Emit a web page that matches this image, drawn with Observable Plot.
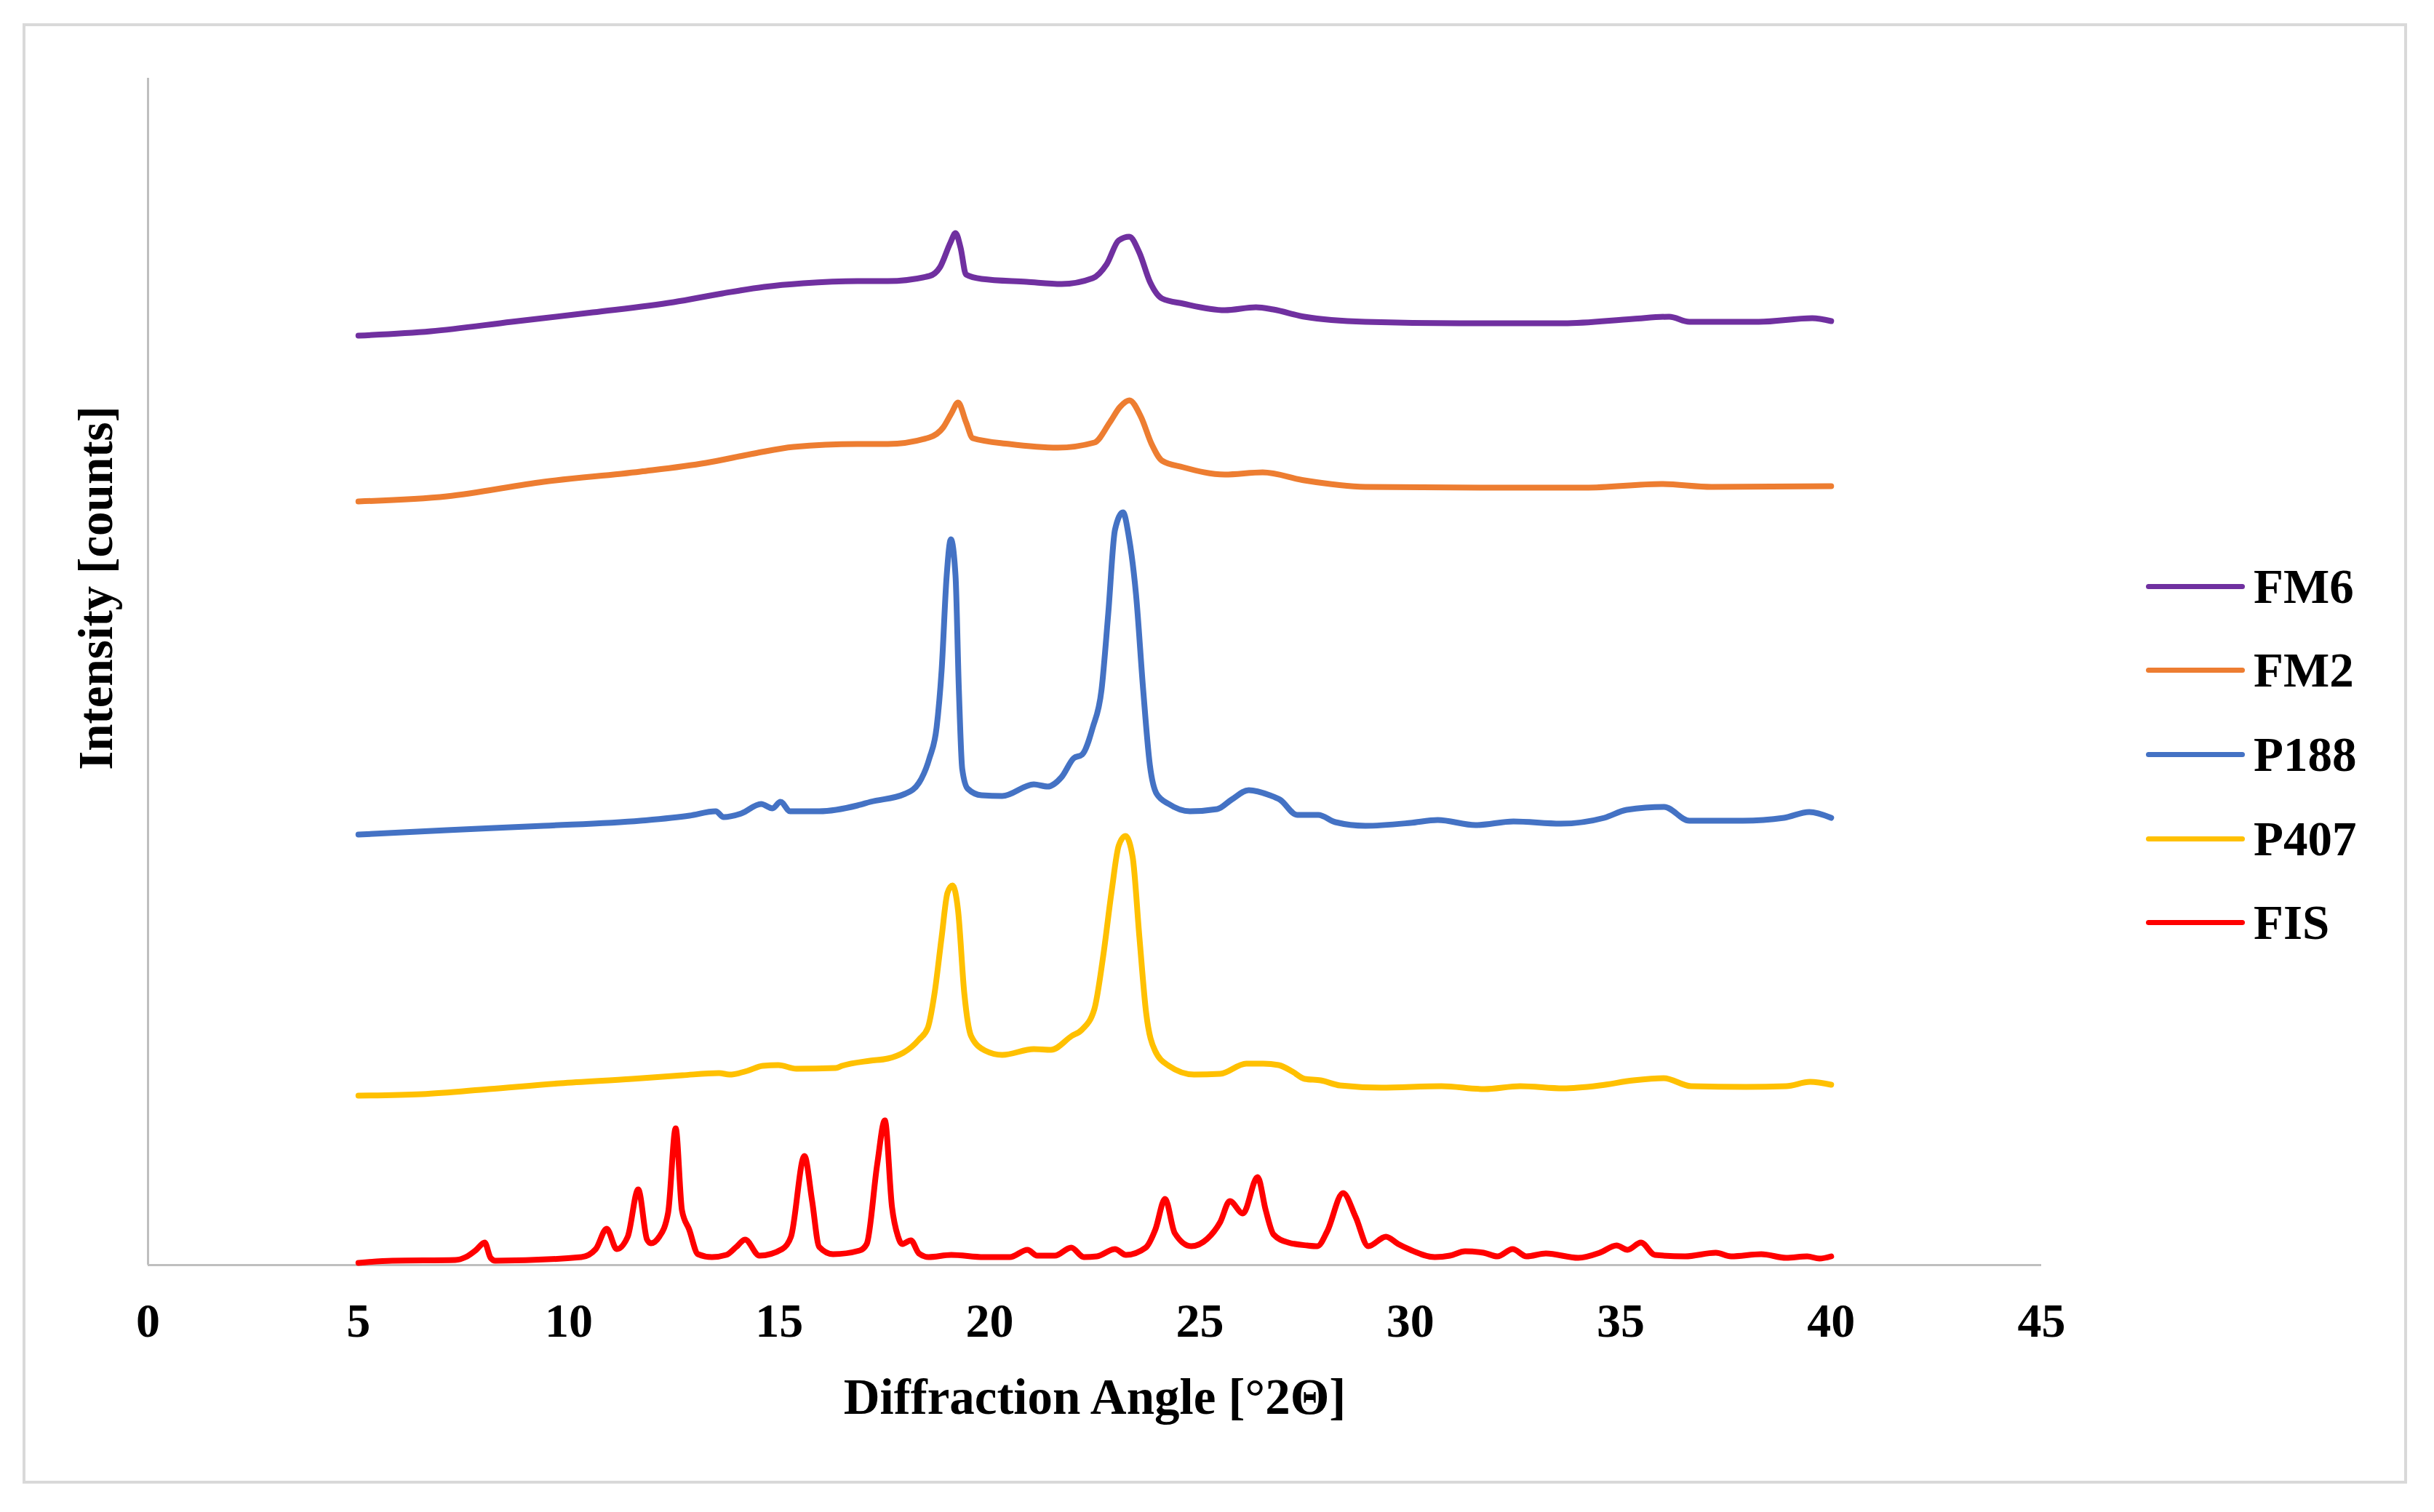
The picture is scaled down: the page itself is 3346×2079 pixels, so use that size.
<!DOCTYPE html>
<html><head><meta charset="utf-8">
<script src="https://cdn.jsdelivr.net/npm/d3@7"></script>
<script src="https://cdn.jsdelivr.net/npm/@observablehq/plot@0.6"></script>
<style>
html,body{margin:0;padding:0;background:#fff;}
#wrap{position:relative;width:3346px;height:2079px;overflow:hidden;background:#fff;}
#chart{position:absolute;left:0;top:0;}
#frame{position:absolute;left:31px;top:32px;width:3278px;height:2008px;border:4px solid #d9d9d9;box-sizing:border-box;pointer-events:none;}
#legend{position:absolute;left:2950px;top:0;font-family:'Liberation Serif','Times New Roman',serif;font-weight:bold;font-size:67px;color:#000;line-height:1;}
.row{position:absolute;left:0;display:flex;align-items:center;white-space:nowrap;height:80px;}
.swatch{width:136px;height:7px;border-radius:4px;margin-right:12px;}
</style>
</head><body>
<div id="wrap"><div id="chart"></div><div id="legend"></div><div id="frame"></div></div>
<script>
// ---- data (angle °2Θ, intensity in arbitrary counts) ----
const seriesNames = ["FM6", "FM2", "P188", "P407", "FIS"];
const seriesColors = ["#7030A0", "#ED7D31", "#4472C4", "#FFC000", "#FF0000"];
const xTicks = [0, 5, 10, 15, 20, 25, 30, 35, 40, 45];
const xTitle = "Diffraction Angle [°2Θ]";
const yTitle = "Intensity [counts]";

const FM6 = [[5.0,1278],[6.72,1284],[8.64,1297],[10.57,1310],[12.49,1324],[13.65,1336],[14.64,1345],[15.57,1350],[16.86,1353],[17.58,1353],[18.57,1360],[18.82,1372],[19.07,1406],[19.19,1419],[19.31,1399],[19.44,1362],[19.81,1356],[20.88,1352],[21.71,1349],[22.45,1357],[22.78,1376],[23.07,1409],[23.32,1414],[23.56,1392],[23.81,1352],[24.1,1329],[24.6,1322],[25.59,1313],[26.33,1317],[26.74,1314],[27.48,1304],[28.93,1297],[31.17,1295],[33.64,1295],[35.29,1301],[36.15,1304],[36.63,1297],[38.28,1297],[39.55,1302],[40.0,1298]];

const FM2 = [[5.0,1050],[7.1,1057],[9.4,1077],[11.7,1091],[13.26,1103],[14.41,1116],[15.34,1125],[16.86,1129],[17.58,1129],[18.57,1138],[18.9,1152],[19.1,1172],[19.25,1186],[19.44,1159],[19.6,1137],[20.47,1129],[21.62,1124],[22.49,1131],[22.86,1159],[23.1,1180],[23.32,1189],[23.6,1166],[23.85,1129],[24.1,1106],[24.6,1097],[25.59,1087],[26.49,1090],[27.48,1079],[28.93,1070],[31.92,1069],[34.16,1069],[35.96,1074],[37.16,1070],[40.0,1071]];

const P188 = [[5.0,592],[7.1,598],[9.4,604],[11.7,611],[12.87,618],[13.49,624],[13.68,616],[14.1,621],[14.57,634],[14.84,628],[15.03,637],[15.26,624],[15.95,624],[16.86,632],[17.17,637],[17.99,648],[18.32,663],[18.57,697],[18.74,739],[18.86,818],[18.98,948],[19.08,998],[19.19,948],[19.27,791],[19.35,682],[19.48,655],[19.81,646],[20.3,645],[21.05,661],[21.38,658],[21.71,671],[22.0,697],[22.2,702],[22.45,739],[22.66,791],[22.82,896],[22.98,1011],[23.17,1035],[23.31,1001],[23.48,922],[23.65,791],[23.81,687],[23.97,648],[24.26,634],[24.76,624],[25.41,627],[25.75,640],[26.16,653],[26.66,646],[26.9,640],[27.31,619],[27.81,619],[28.22,609],[28.93,604],[30.0,608],[30.65,612],[31.55,605],[32.45,610],[33.57,607],[34.61,615],[35.14,626],[36.03,630],[36.63,611],[37.9,611],[38.88,615],[39.48,623],[40.0,615]];

const P407 = [[5.0,233],[6.5,235],[8.1,242],[9.8,250],[11.5,256],[12.7,261],[13.57,264],[13.82,262],[14.24,267],[14.61,274],[14.98,275],[15.41,270],[16.34,271],[16.49,274],[17.16,281],[17.58,284],[18.32,310],[18.53,326],[18.69,373],[18.86,451],[19.0,512],[19.12,522],[19.25,488],[19.4,373],[19.56,315],[19.89,295],[20.3,289],[21.05,297],[21.46,296],[21.95,315],[22.2,324],[22.49,352],[22.7,425],[22.9,514],[23.07,577],[23.23,590],[23.4,561],[23.56,451],[23.72,347],[23.93,295],[24.26,274],[24.86,262],[25.48,263],[26.1,277],[26.5,277],[26.87,275],[27.2,266],[27.49,256],[27.87,254],[28.33,247],[29.3,244],[30.74,246],[31.76,242],[32.61,246],[33.63,243],[34.5,247],[35.3,254],[36.02,257],[36.67,246],[37.98,245],[38.93,246],[39.5,252],[40.0,248]];

const FIS = [[5.0,3],[5.8,6],[7.3,7],[7.55,11],[7.8,21],[8.0,31],[8.14,10],[8.25,6],[10.3,11],[10.64,22],[10.9,50],[11.14,22],[11.4,39],[11.65,104],[11.86,35],[11.95,30],[12.15,39],[12.36,72],[12.54,188],[12.69,75],[12.86,49],[13.07,15],[13.4,11],[13.74,14],[13.98,25],[14.19,35],[14.53,13],[15.07,22],[15.28,39],[15.6,150],[15.78,89],[15.95,25],[16.28,15],[16.91,20],[17.08,29],[17.33,139],[17.51,199],[17.68,80],[17.82,40],[17.92,29],[18.13,34],[18.32,16],[18.55,11],[19.09,14],[19.86,11],[20.48,11],[20.9,21],[21.13,13],[21.55,13],[21.94,24],[22.24,11],[22.55,12],[22.98,22],[23.24,14],[23.71,24],[23.94,49],[24.17,91],[24.4,44],[24.79,26],[25.17,36],[25.48,59],[25.71,88],[26.02,71],[26.37,121],[26.56,76],[26.75,42],[27.1,31],[27.55,27],[27.79,26],[28.02,46],[28.4,99],[28.7,66],[29.0,26],[29.42,39],[29.71,29],[30.0,21],[30.58,11],[30.94,13],[31.3,19],[31.74,17],[32.07,12],[32.43,22],[32.76,12],[33.22,16],[33.99,10],[34.5,17],[34.9,27],[35.16,21],[35.48,31],[35.81,14],[36.53,12],[37.26,17],[37.62,12],[38.34,15],[38.93,10],[39.43,12],[39.72,9],[40.0,12]];

const seriesData = [FM6, FM2, P188, P407, FIS];

// ---- build ----
const rows = seriesNames.flatMap((name, i) => seriesData[i].map(([angle, counts]) => ({name, angle, counts})));
const fontFam = "'Liberation Serif','Times New Roman',serif";

const chart = Plot.plot({
  width: 3346,
  height: 2079,
  marginLeft: 203,
  marginRight: 540,
  marginTop: 107,
  marginBottom: 340,
  style: {fontFamily: fontFam, fontWeight: "bold", fontSize: "64px", color: "#000", background: "transparent"},
  x: {domain: [0, 45], label: null},
  y: {domain: [0, 1632], axis: null},
  color: {domain: seriesNames, range: seriesColors},
  marks: [
    Plot.ruleY([0], {stroke: "#bfbfbf", strokeWidth: 3}),
    Plot.ruleX([0], {stroke: "#bfbfbf", strokeWidth: 3}),
    Plot.axisX(xTicks, {tickSize: 0, tickPadding: 52, fontSize: 66, fontWeight: "bold", fill: "#000", label: null}),
    Plot.line(rows, {x: "angle", y: "counts", z: "name", stroke: "name", strokeWidth: 8, curve: "monotone-x", strokeLinejoin: "round", strokeLinecap: "round"}),
    Plot.text([xTitle], {frameAnchor: "bottom", dy: 182, textAnchor: "middle", lineAnchor: "middle", fontSize: 69, fontWeight: "bold", fill: "#000"}),
    Plot.text([yTitle], {frameAnchor: "left", dx: -71, dy: -115, rotate: -90, textAnchor: "middle", lineAnchor: "middle", fontSize: 67, fontWeight: "bold", fill: "#000"})
  ]
});
document.getElementById("chart").appendChild(chart);

// ---- legend ----
const legend = document.getElementById("legend");
seriesNames.forEach((name, i) => {
  const row = document.createElement("div");
  row.className = "row";
  row.style.top = (806 + i * 115.7 - 40) + "px";
  const sw = document.createElement("div");
  sw.className = "swatch";
  sw.style.background = seriesColors[i];
  const lab = document.createElement("span");
  lab.textContent = name;
  row.appendChild(sw);
  row.appendChild(lab);
  legend.appendChild(row);
});
</script>
</body></html>
